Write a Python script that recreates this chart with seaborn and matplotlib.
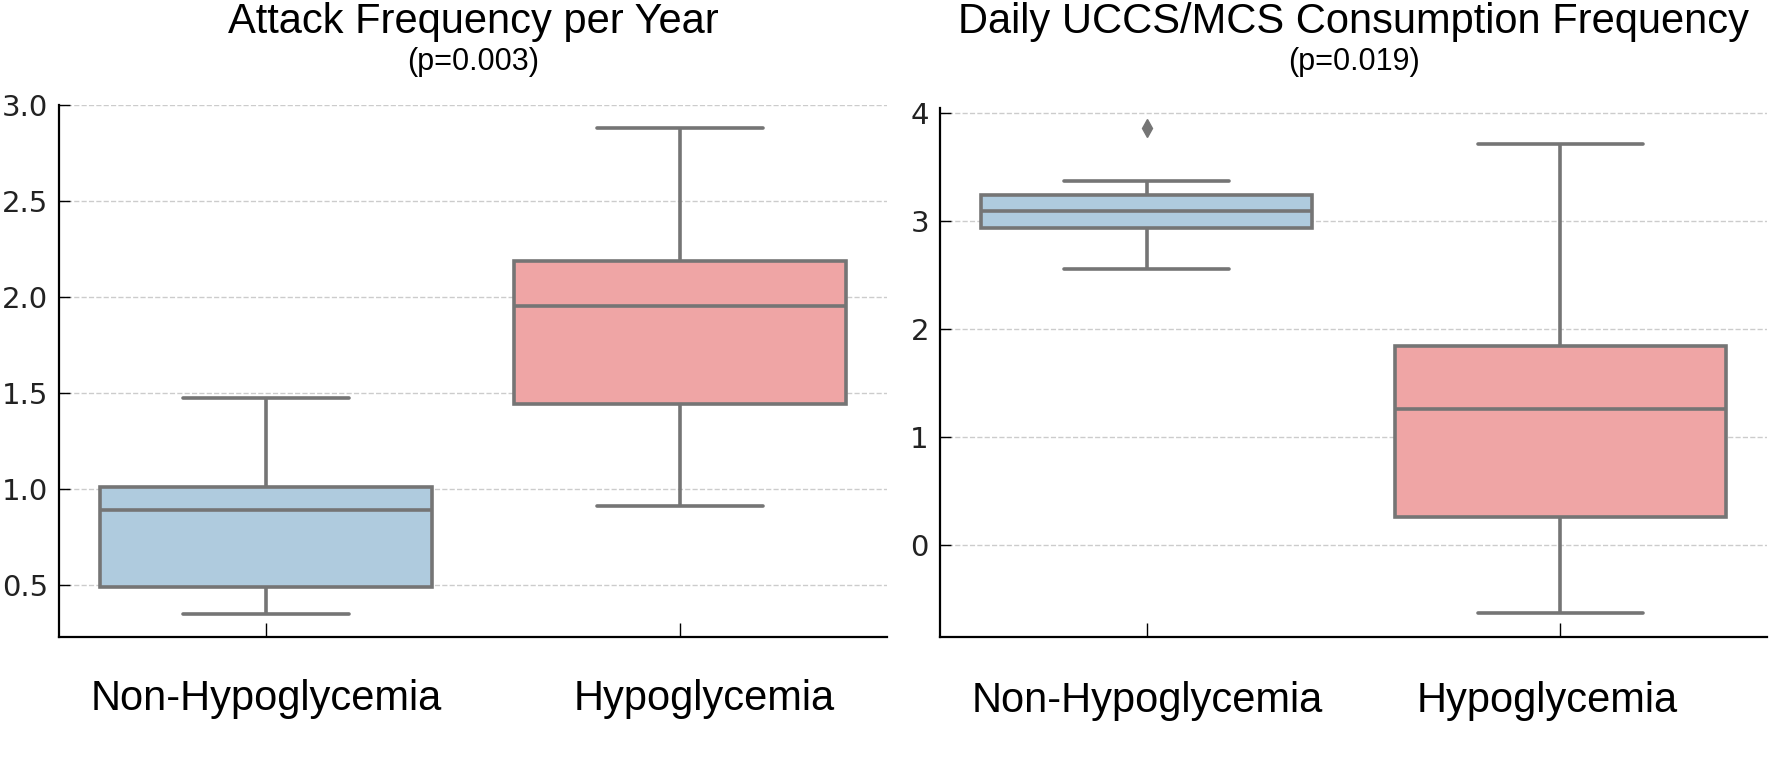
import numpy as np
import pandas as pd
import matplotlib.pyplot as plt
import matplotlib.transforms as mtransforms
import seaborn as sns

groups = ['Non-Hypoglycemia', 'Hypoglycemia']

attack_non = [0.35, 0.49, 0.89, 1.01, 1.475]
attack_hypo = [0.91, 1.445, 1.955, 2.19, 2.88]

uccs_non = [2.56, 2.80, 2.94, 3.00, 3.09, 3.20, 3.24, 3.37, 3.86]
uccs_hypo = [-0.63, 0.26, 1.26, 1.84, 3.71]

titles = ['Attack Frequency per Year', 'Daily UCCS/MCS Consumption Frequency']
pvals = ['(p=0.003)', '(p=0.019)']

box_colors = ['#afcbde', '#efa5a5']
line_col = '#757575'

df_attack = pd.DataFrame({
    'group': [groups[0]] * len(attack_non) + [groups[1]] * len(attack_hypo),
    'value': attack_non + attack_hypo,
})
df_uccs = pd.DataFrame({
    'group': [groups[0]] * len(uccs_non) + [groups[1]] * len(uccs_hypo),
    'value': uccs_non + uccs_hypo,
})

sns.set_style('white')
plt.rcParams['font.family'] = ['Liberation Sans', 'DejaVu Sans']
plt.rcParams['text.color'] = 'black'

fig = plt.figure(figsize=(17.78, 7.75), dpi=100)
fig.set_facecolor('white')
ax1 = fig.add_axes([0.0332, 0.178, 0.4657, 0.6865])
ax2 = fig.add_axes([0.5287, 0.178, 0.4651, 0.683])

for ax, df, title, pv, xpad in [(ax1, df_attack, titles[0], pvals[0], 30),
                                (ax2, df_uccs, titles[1], pvals[1], 32)]:
    sns.boxplot(data=df, x='group', y='value', hue='group', order=groups,
                hue_order=groups, palette=box_colors, legend=False,
                saturation=1, linecolor=line_col, linewidth=2.6, width=0.8,
                fliersize=9,
                flierprops={'marker': 'd', 'markerfacecolor': line_col,
                            'markeredgecolor': line_col},
                ax=ax)
    ax.set_xlabel('')
    ax.set_ylabel('')
    ax.yaxis.grid(True, linestyle='--', color='#cccccc', linewidth=1)
    ax.set_axisbelow(True)
    sns.despine(ax=ax)
    for s in ['left', 'bottom']:
        ax.spines[s].set_color('black')
        ax.spines[s].set_linewidth(1.6)
    ax.tick_params(axis='x', bottom=True, direction='in', length=10, width=1,
                   pad=xpad, labelsize=30, colors='black')
    ax.tick_params(axis='y', left=True, direction='in', length=8, width=1,
                   pad=8, colors='black', labelcolor='#222222')
    pos = ax.get_position()
    cx = (pos.x0 + pos.x1) / 2
    fig.text(cx, 0.972, title, ha='center', va='center', fontsize=30)
    fig.text(cx, 0.92, pv, ha='center', va='center', fontsize=22)

ax1.set_ylim(0.23, 3.0)
ax1.set_yticks([0.5, 1.0, 1.5, 2.0, 2.5, 3.0])
ax1.set_yticklabels(['0.5', '1.0', '1.5', '2.0', '2.5', '3.0'],
                    fontfamily='DejaVu Sans', fontsize=21)
ax2.set_ylim(-0.85, 4.05)
ax2.set_yticks([0, 1, 2, 3, 4])
ax2.set_yticklabels(['0', '1', '2', '3', '4'], fontfamily='DejaVu Sans', fontsize=21)
for ax in (ax1, ax2):
    ax.set_xlim(-0.5, 1.5)

# the "Hypoglycemia" labels sit a little off their ticks in the original
for ax, dx in [(ax1, 0.24), (ax2, -0.13)]:
    shift = mtransforms.ScaledTranslation(dx, 0, fig.dpi_scale_trans)
    lab = ax.get_xticklabels()[1]
    lab.set_transform(lab.get_transform() + shift)

fig.savefig('out.png', dpi=100, facecolor='white')
